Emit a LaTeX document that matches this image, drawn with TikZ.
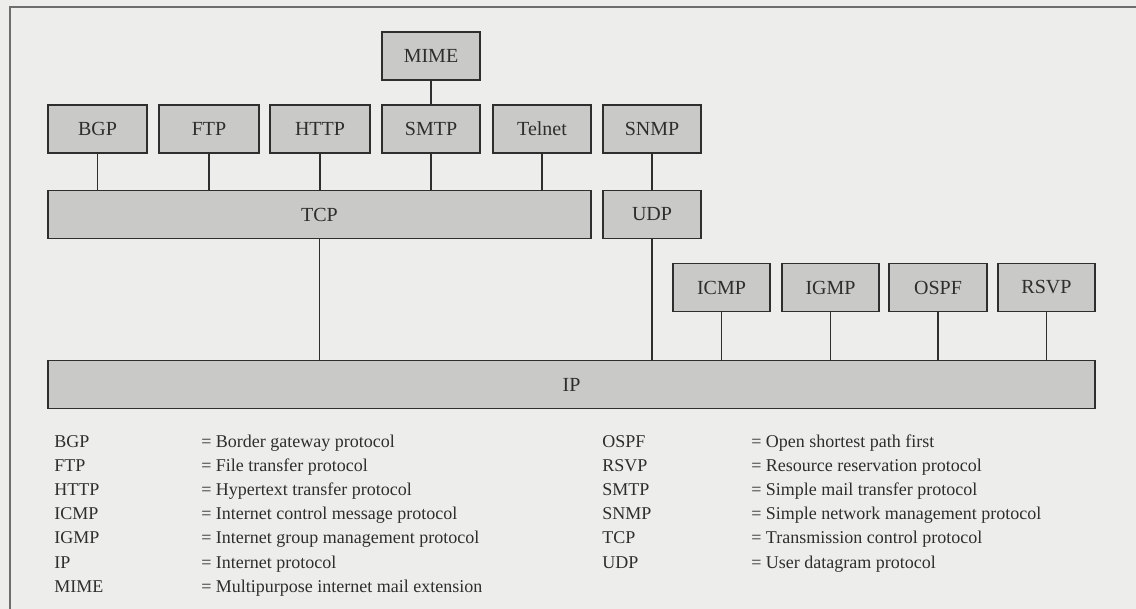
\documentclass[tikz,border=0pt]{standalone}
\usepackage{fontspec}
\setmainfont{Liberation Serif}
\definecolor{paper}{HTML}{EDEDEC}
\definecolor{boxfill}{HTML}{C9C9C8}
\definecolor{ink}{HTML}{2E2E2E}
\definecolor{rule}{HTML}{6E6E6E}
\begin{document}
\begin{tikzpicture}[x=0.75pt,y=-0.75pt,
  proto/.style={draw=ink,fill=boxfill,line width=1.4pt,inner sep=0pt,
    minimum width=#1*0.75pt,minimum height=48*0.75pt,text=ink,
    font=\fontsize{15}{18}\selectfont},
  link/.style={draw=ink,line width=1pt},
  abbr/.style={anchor=base west,inner sep=0pt,text=ink,font=\fontsize{13.5}{16}\selectfont},
]
% canvas and frame
\fill[paper] (0,0) rectangle (1136,609);
\useasboundingbox (0,0) rectangle (1136,609);
\draw[rule,line width=1.4pt] (1136,7) -- (10,7) -- (10,609);

% application layer
\node[proto=98]  (MIME)   at (431,56)   {MIME};
\node[proto=99]  (BGP)    at (97.5,129) {BGP};
\node[proto=100] (FTP)    at (209,129)  {FTP};
\node[proto=100] (HTTP)   at (320,129)  {HTTP};
\node[proto=98]  (SMTP)   at (431,129)  {SMTP};
\node[proto=98]  (Telnet) at (542,129)  {Telnet};
\node[proto=98]  (SNMP)   at (652,129)  {SNMP};

% transport layer
\node[proto=543] (TCP) at (319.5,214.5) {TCP};
\node[proto=98]  (UDP) at (652,214.5)   {UDP};

% protocols riding directly on IP
\node[proto=97] (ICMP) at (721.5,287.5) {ICMP};
\node[proto=97] (IGMP) at (830.5,287.5) {IGMP};
\node[proto=98] (OSPF) at (938,287.5)   {OSPF};
\node[proto=97] (RSVP) at (1046.5,287.5) {RSVP};

% network layer
\node[proto=1047] (IP) at (571.5,384.5) {IP};

% connectors
\draw[link] (MIME.south) -- (SMTP.north);
\foreach \n in {BGP,FTP,HTTP,SMTP,Telnet}
  \draw[link] (\n.south) -- (\n.south |- TCP.north);
\draw[link] (SNMP.south) -- (UDP.north);
\draw[link] (TCP.south) -- (TCP.south |- IP.north);
\draw[link] (UDP.south) -- (UDP.south |- IP.north);
\foreach \n in {ICMP,IGMP,OSPF,RSVP}
  \draw[link] (\n.south) -- (\n.south |- IP.north);

% legend, left column
\foreach [count=\i from 0] \a/\d in {
  BGP/Border gateway protocol,
  FTP/File transfer protocol,
  HTTP/Hypertext transfer protocol,
  ICMP/Internet control message protocol,
  IGMP/Internet group management protocol,
  IP/Internet protocol,
  MIME/Multipurpose internet mail extension}{
  \node[abbr] (la\i) at (54,448+24*\i) {\a};
  \node[abbr] (ld\i) at (201,448+24*\i) {= \d};
}
% legend, right column
\foreach [count=\i from 0] \a/\d in {
  OSPF/Open shortest path first,
  RSVP/Resource reservation protocol,
  SMTP/Simple mail transfer protocol,
  SNMP/Simple network management protocol,
  TCP/Transmission control protocol,
  UDP/User datagram protocol}{
  \node[abbr] (ra\i) at (602,448+24*\i) {\a};
  \node[abbr] (rd\i) at (751,448+24*\i) {= \d};
}
\end{tikzpicture}
\end{document}
